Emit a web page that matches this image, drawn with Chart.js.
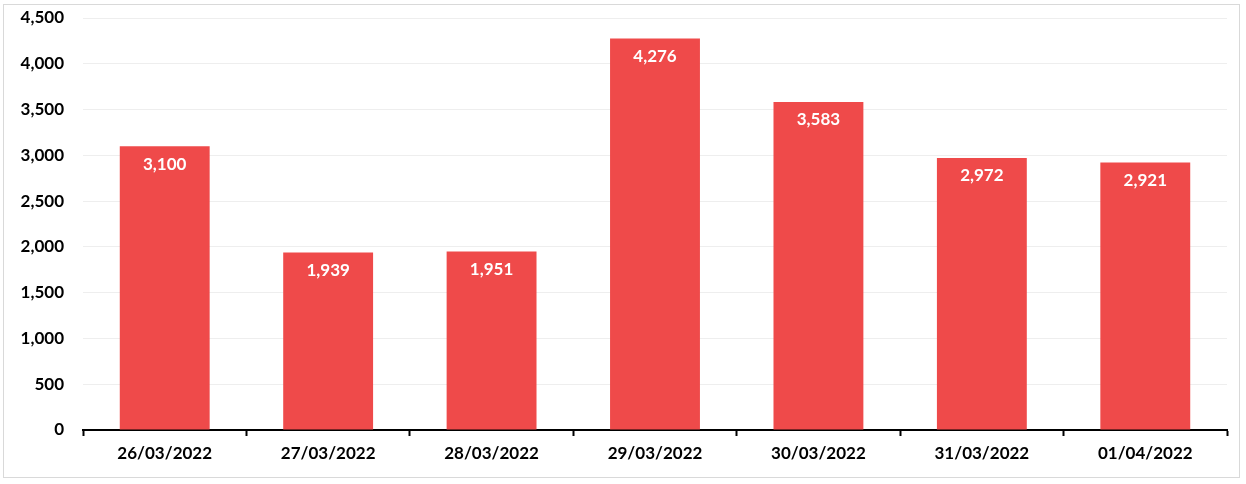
<!DOCTYPE html>
<html>
<head>
<meta charset="utf-8">
<script src="https://cdn.jsdelivr.net/npm/chart.js@4/dist/chart.umd.min.js"></script>
<style>
  body { margin: 0; background: #fff; }
  #box { position: absolute; left: 3px; top: 4px; width: 1235px; height: 472px; border: 1px solid #d9d9d9; }
</style>
</head>
<body>
<div id="box"><canvas id="chart" width="1235" height="472"></canvas></div>
<script>
var categories = ["26/03/2022", "27/03/2022", "28/03/2022", "29/03/2022", "30/03/2022", "31/03/2022", "01/04/2022"];
var values = [3100, 1939, 1951, 4276, 3583, 2972, 2921];
var yTicks = [0, 500, 1000, 1500, 2000, 2500, 3000, 3500, 4000, 4500];

var fontFamily = "Lato, 'Open Sans', sans-serif";

// draws the value labels just inside the top of each bar
var barLabels = {
    id: 'barLabels',
    afterDatasetsDraw: function(chart) {
        var ctx = chart.ctx;
        var meta = chart.getDatasetMeta(0);
        ctx.save();
        ctx.fillStyle = '#ffffff';
        ctx.font = 'bold 17px ' + fontFamily;
        ctx.textAlign = 'center';
        ctx.textBaseline = 'middle';
        meta.data.forEach(function(bar, i) {
            ctx.fillText(values[i].toLocaleString('en-US'), bar.x, bar.y + 18);
        });
        ctx.restore();
    }
};

var ctx = document.getElementById('chart').getContext('2d');
var chart = new Chart(ctx, {
    type: 'bar',
    data: {
        labels: categories,
        datasets: [{
            data: values,
            backgroundColor: 'rgb(239, 74, 74)',
            barPercentage: 0.55,
            categoryPercentage: 1
        }]
    },
    options: {
        responsive: false,
        animation: false,
        layout: { padding: { left: 0, right: 12, top: 13, bottom: 0 } },
        plugins: {
            legend: { display: false },
            tooltip: { enabled: false }
        },
        scales: {
            x: {
                grid: {
                    display: true,
                    drawOnChartArea: false,
                    drawTicks: true,
                    tickLength: 6,
                    tickWidth: 2,
                    tickColor: '#000000',
                    offset: true
                },
                border: { display: true, color: '#000000', width: 2 },
                ticks: {
                    color: '#000000',
                    padding: 7,
                    font: { family: fontFamily, size: 17, weight: 'bold' }
                },
                afterFit: function(scale) { scale.height = 47; }
            },
            y: {
                min: 0,
                max: 4500,
                afterBuildTicks: function(scale) {
                    scale.ticks = yTicks.map(function(v) { return { value: v }; });
                },
                grid: { color: '#eeeeee', drawTicks: true, tickLength: 19, tickColor: 'rgba(0,0,0,0)' },
                border: { display: false },
                ticks: {
                    color: '#000000',
                    padding: 0,
                    font: { family: fontFamily, size: 17, weight: 'bold' },
                    callback: function(v) { return v.toLocaleString('en-US'); }
                },
                afterFit: function(scale) { scale.width = 79; }
            }
        }
    },
    plugins: [barLabels]
});
</script>
</body>
</html>
